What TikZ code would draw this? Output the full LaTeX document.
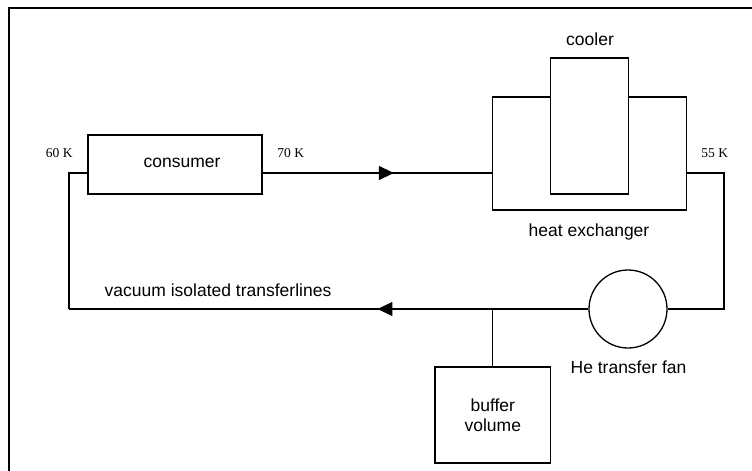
\documentclass[tikz,border=0pt]{standalone}
\usepackage{fontspec}
\setmainfont{Liberation Sans}
\newfontfamily\tempfont{Liberation Serif}
\usetikzlibrary{arrows.meta,decorations.markings}
\tikzset{
  line/.style={line width=1.3pt},
  box/.style={draw,line width=1.3pt,rectangle,inner sep=0pt,font=\fontsize{17.5}{19.5}\selectfont,align=center},
  lbl/.style={inner sep=0pt,font=\fontsize{17.5}{19.5}\selectfont,align=center},
  temp/.style={inner sep=0pt,font=\tempfont\fontsize{13.5}{15}\selectfont},
  midarrow/.style={postaction={decorate},decoration={markings,mark=at position #1 with {\arrow{Triangle[length=15pt,width=14pt]}}}},
  midarrowrev/.style={postaction={decorate},decoration={markings,mark=at position #1 with {\arrow{Triangle[length=15pt,width=14pt]}}}}
}
\begin{document}
\begin{tikzpicture}[x=1pt,y=-1pt]
\useasboundingbox (0,0) rectangle (752,471);
\clip (0,0) rectangle (752,471);
% outer frame
\draw[line] (9,8) rectangle (770,490);
% nodes
\node[box,minimum width=174pt,minimum height=59pt] (consumer) at (175,164.5) {};
\node[lbl] (consumertext) at (182,163) {consumer};
\node[box,minimum width=194pt,minimum height=113pt] (hx) at (589.7,153.5) {};
\node[box,fill=white,minimum width=77.6pt,minimum height=136pt] (cooler) at (589.5,126) {};
\node[draw,line,circle,minimum size=78pt,inner sep=0pt] (fan) at (628,309) {};
\node[box,minimum width=115.7pt,minimum height=96pt] (buffer) at (492.8,415) {buffer\\volume};
% coordinates
\coordinate (ytop) at (0,173);
\coordinate (rc) at (724,309);
\coordinate (lc) at (69,309);
\coordinate (jn) at (492.8,309);
% connectors
\draw[line,midarrow=0.572] (consumer.east |- ytop) -- (hx.west |- ytop);
\draw[line] (hx.east |- ytop) -| (rc) -- (fan.east);
\draw[line,midarrow=0.406] (fan.west) -- (lc);
\draw[line] (lc) -- (lc |- ytop) -- (consumer.west |- ytop);
\draw[line] (jn) -- (buffer.north);
% labels
\node[lbl] (coolerlbl) at (590,39) {cooler};
\node[lbl] (hxlbl) at (589,232) {heat exchanger};
\node[lbl] (fanlbl) at (628.5,367.5) {He transfer fan};
\node[lbl] (vitl) at (218,290) {vacuum isolated transferlines};
\node[temp] (t60) at (59.3,153) {60 K};
\node[temp] (t70) at (290.8,153) {70 K};
\node[temp] (t55) at (714.7,153) {55 K};
\end{tikzpicture}
\end{document}
